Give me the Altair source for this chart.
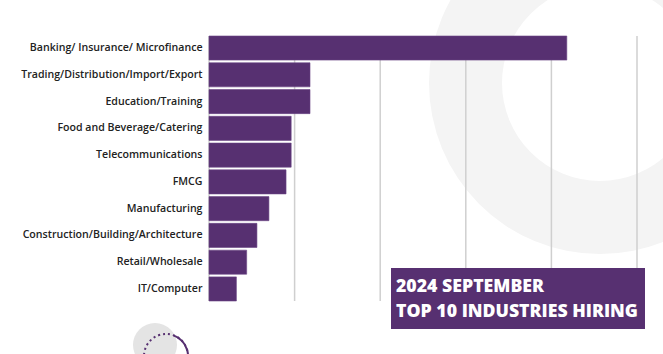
import altair as alt
import pandas as pd

industries = [
    "Banking/ Insurance/ Microfinance",
    "Trading/Distribution/Import/Export",
    "Education/Training",
    "Food and Beverage/Catering",
    "Telecommunications",
    "FMCG",
    "Manufacturing",
    "Construction/Building/Architecture",
    "Retail/Wholesale",
    "IT/Computer",
]
shares = [20.9, 5.9, 5.9, 4.8, 4.8, 4.5, 3.5, 2.8, 2.2, 1.6]
grid_values = [0, 5, 10, 15, 20, 25]
title_lines = ["2024 SEPTEMBER", "TOP 10 INDUSTRIES HIRING"]

PURPLE = "#573071"
W, H = 428, 265

df = pd.DataFrame({"industry": industries, "share": shares})
grid_df = pd.DataFrame({"v": grid_values})

xscale = alt.Scale(domain=[0, 25], nice=False, zero=True)

ring = alt.Chart(pd.DataFrame({"a": [0]})).mark_arc(
    radius=171, radius2=98, theta=0, theta2=6.2832, color="#f4f4f4"
).encode(x=alt.value(391), y=alt.value(47))

hatch = alt.Chart(pd.DataFrame({"a": [0]})).mark_arc(
    radius=22, radius2=0, theta=0, theta2=6.2832, color="#e4e4e4"
).encode(x=alt.value(-54), y=alt.value(309))

dotted = alt.Chart(pd.DataFrame({"a": [0]})).mark_point(
    shape="circle", size=1936, filled=False, stroke=PURPLE, strokeWidth=2,
    strokeDash=[2, 3], opacity=1
).encode(x=alt.value(-43), y=alt.value(320))

solid = alt.Chart(pd.DataFrame({"a": [0]})).mark_arc(
    radius=23, radius2=21, theta=0.35, theta2=2.2, color=PURPLE
).encode(x=alt.value(-43), y=alt.value(320))

grid = alt.Chart(grid_df).mark_rule(color="#cfcfcf", strokeWidth=1.5).encode(
    x=alt.X("v:Q", scale=xscale, axis=None)
)

bars = alt.Chart(df).mark_bar(color=PURPLE, stroke="#6a4584", strokeWidth=0.6).encode(
    x=alt.X("share:Q", scale=xscale, axis=None),
    y=alt.Y(
        "industry:N",
        sort=industries,
        scale=alt.Scale(paddingInner=0.1, paddingOuter=0.0),
        axis=alt.Axis(
            title=None, domain=False, ticks=False, labelPadding=7,
            labelFont="Open Sans", labelFontSize=10.6, labelFontWeight=600,
            labelColor="#222222", labelLimit=400,
        ),
    ),
)

box = alt.Chart(pd.DataFrame({"a": [0]})).mark_rect(color=PURPLE).encode(
    x=alt.value(182), x2=alt.value(436), y=alt.value(232), y2=alt.value(293)
)

t1 = alt.Chart(pd.DataFrame({"t": [title_lines[0]]})).mark_text(
    align="left", baseline="alphabetic", font="Open Sans", fontWeight=800,
    fontSize=17.7, color="white"
).encode(text="t:N", x=alt.value(187), y=alt.value(256))

t2 = alt.Chart(pd.DataFrame({"t": [title_lines[1]]})).mark_text(
    align="left", baseline="alphabetic", font="Open Sans", fontWeight=800,
    fontSize=17.7, color="white"
).encode(text="t:N", x=alt.value(187), y=alt.value(281))

chart = alt.layer(ring, hatch, dotted, solid, grid, bars, box, t1, t2).properties(
    width=W, height=H,
    autosize=alt.AutoSizeParams(type="none"),
    padding={"left": 209, "top": 36, "right": 663 - 209 - W, "bottom": 354 - 36 - H},
    background="white",
).configure_view(stroke=None)

chart.save("out.html", embed_options={"renderer": "svg", "actions": False})
